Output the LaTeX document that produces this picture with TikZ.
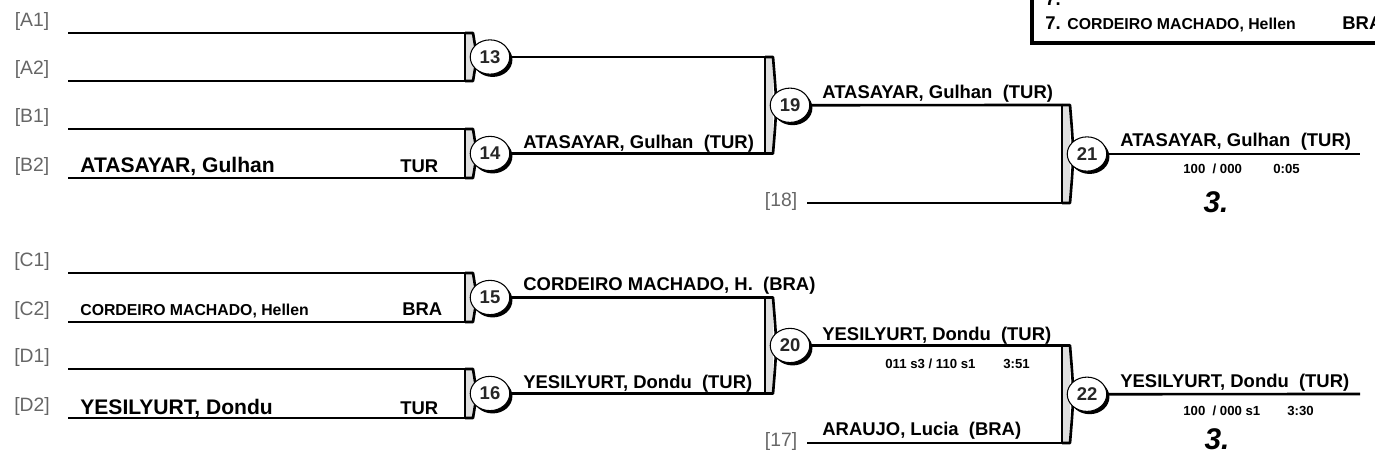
\documentclass[tikz,border=0pt]{standalone}
\usepackage{fontspec}
\setmainfont{Liberation Sans}
\usetikzlibrary{shapes.geometric, shadows}

\tikzset{
  ln/.style={line width=1.5pt},
  seed/.style={text=black!60, font=\fontsize{11}{12}\selectfont, inner sep=0pt},
  seedr/.style={text=black!60, font=\fontsize{11}{12}\selectfont, inner sep=0pt},
  nm/.style={anchor=base west, inner sep=0pt, font=\bfseries\fontsize{10.5}{12}\selectfont},
  nmbig/.style={anchor=base west, inner sep=0pt, font=\bfseries\fontsize{12}{14}\selectfont},
  nmsmall/.style={anchor=base west, inner sep=0pt, font=\bfseries\fontsize{9}{11}\selectfont},
  score/.style={anchor=west, inner sep=0pt, font=\bfseries\fontsize{7.5}{9}\selectfont},
  place/.style={inner sep=0pt, font=\bfseries\itshape\fontsize{17}{19}\selectfont},
  circ/.style={ellipse, draw=black, line width=0.6pt, fill=white,
    minimum width=22.5pt, minimum height=19.5pt, inner sep=0pt,
    font=\bfseries\fontsize{10.5}{11}\selectfont, text=black!85,
    drop shadow={shadow xshift=1.5pt, shadow yshift=-1.6pt, fill=black, opacity=1}}
}

% bracket: name, x, top y, bottom y, match number
\newcommand{\bracketbox}[5]{%
  \fill[gray!25] (#2,#3) rectangle (#2+8,#4);
  \draw[line width=0.6pt] (#2,#3) -- (#2,#4);
  \draw[line width=1.5pt, line join=round] (#2,#3) -- (#2+8,#3)
    .. controls (#2+12,{(#3+#4)/2}) .. (#2+8,#4) -- (#2,#4);
  \coordinate (#1-t) at (#2,#3);
  \coordinate (#1-b) at (#2,#4);
  \node[circ] (#1) at (#2+25,{(#3+#4)/2}) {#5};
}

\begin{document}
\begin{tikzpicture}[x=0.02cm, y=-0.02cm]
  \clip (0,0) rectangle (1375,462);
  \fill[white] (0,0) rectangle (1375,462);

  % seeds of the first round
  \foreach \sd/\yy in {A1/33, A2/81, B1/129, B2/178, C1/273, C2/322, D1/369, D2/418} {
    \node[seed] (s\sd) at (32,\yy-11) {[\sd]};
    \coordinate (l\sd) at (68,\yy);
  }

  % brackets and match circles
  \bracketbox{m13}{465}{33}{81}{13}
  \bracketbox{m14}{465}{129}{178}{14}
  \bracketbox{m15}{465}{273}{322}{15}
  \bracketbox{m16}{465}{369}{418}{16}
  \bracketbox{m19}{765}{57}{153.5}{19}
  \bracketbox{m20}{765}{297.5}{393.5}{20}
  \bracketbox{m21}{1062}{105}{203}{21}
  \bracketbox{m22}{1062}{345.5}{443}{22}

  % repechage entries
  \node[seedr] (s18) at (781,202) {[18]};
  \coordinate (l18) at (807,203);
  \node[seedr] (s17) at (781,442) {[17]};
  \coordinate (l17) at (807,443);
  \coordinate (e21) at (1360,154);
  \coordinate (e22) at (1360,394);

  % lines
  \foreach \a/\b in {lA1/m13-t, lA2/m13-b, lB1/m14-t, lB2/m14-b,
                     lC1/m15-t, lC2/m15-b, lD1/m16-t, lD2/m16-b,
                     m13/m19-t, m14/m19-b, m15/m20-t, m16/m20-b,
                     m19/m21-t, l18/m21-b, m20/m22-t, l17/m22-b,
                     m21/e21, m22/e22}
    \draw[ln] (\a) -- (\b);

  % first round names
  \node[nmbig] (nB2) at (80,173) {ATASAYAR, Gulhan};
  \node[nm] (cB2) at (400,173) {TUR};
  \node[nmsmall] (nC2) at (80,316) {CORDEIRO MACHADO, Hellen};
  \node[nm] (cC2) at (402,316) {BRA};
  \node[nmbig] (nD2) at (80,414) {YESILYURT, Dondu};
  \node[nm] (cD2) at (400,414) {TUR};

  % winners
  \node[nm] (w14) at (523,149) {ATASAYAR, Gulhan~~(TUR)};
  \node[nm] (w15) at (523,291) {CORDEIRO MACHADO, H.~~(BRA)};
  \node[nm] (w16) at (523,388) {YESILYURT, Dondu~~(TUR)};
  \node[nm] (w19) at (822,99) {ATASAYAR, Gulhan~~(TUR)};
  \node[nm] (w20) at (822,340) {YESILYURT, Dondu~~(TUR)};
  \node[nm] (w17) at (822,435) {ARAUJO, Lucia~~(BRA)};
  \node[nm] (w21) at (1120,147) {ATASAYAR, Gulhan~~(TUR)};
  \node[nm] (w22) at (1120,387) {YESILYURT, Dondu~~(TUR)};

  % scores
  \node[score] (r20a) at (885,364) {011 s3 / 110 s1};
  \node[score] (r20b) at (1003,364) {3:51};
  \node[score] (r21a) at (1183,169) {100~~/ 000};
  \node[score] (r21b) at (1273,169) {0:05};
  \node[score] (r22a) at (1183,411) {100~~/ 000 s1};
  \node[score] (r22b) at (1287,411) {3:30};

  % places
  \node[place] (p21) at (1216,202) {3.};
  \node[place] (p22) at (1217,439) {3.};

  % result box, top right
  \draw[line width=1.8pt] (1032,-10) -- (1032,43) -- (1400,43);
  \node[nm] (r7a) at (1045,6) {7.};
  \node[nm] (r7b) at (1045,30) {7.};
  \node[nmsmall] (r7n) at (1067,30) {CORDEIRO MACHADO, Hellen};
  \node[nm] (r7c) at (1342,30) {BRA};
\end{tikzpicture}
\end{document}
